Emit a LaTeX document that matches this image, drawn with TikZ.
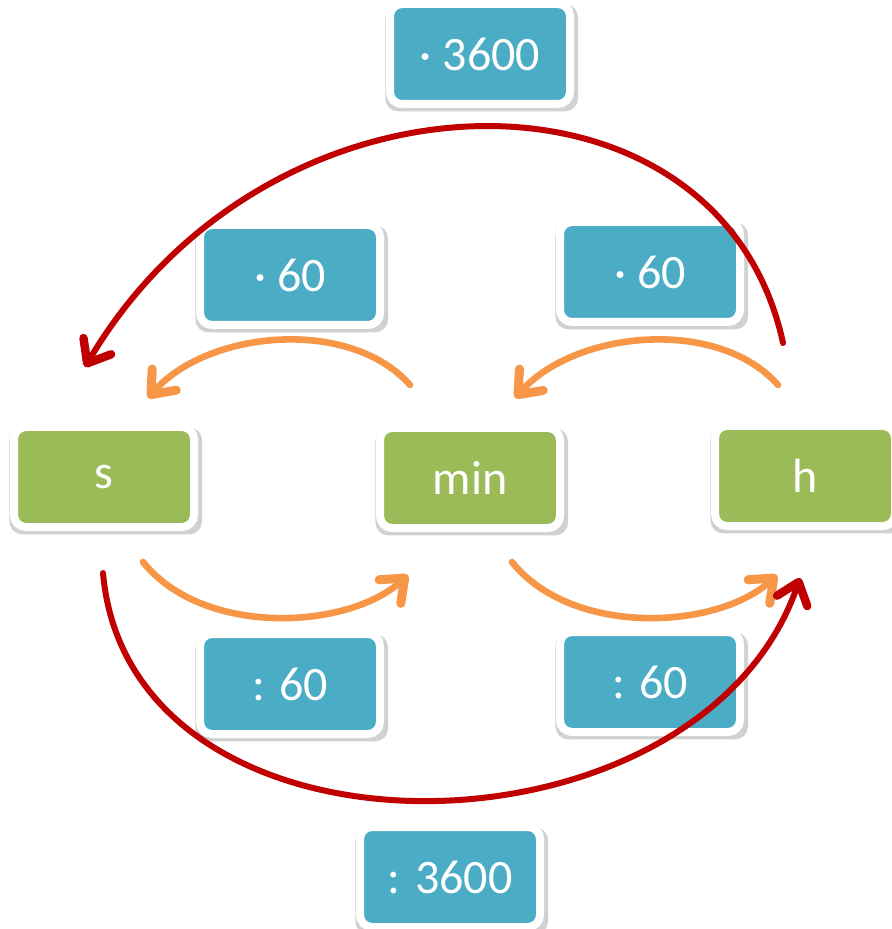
\documentclass[tikz,border=0pt]{standalone}
\usepackage{fontspec}
\setmainfont{Carlito}
\usetikzlibrary{arrows.meta,shadows}
\definecolor{unitgreen}{HTML}{9BBB59}
\definecolor{factorblue}{HTML}{4BACC6}
\definecolor{stepcolor}{HTML}{F79646}
\definecolor{bigstep}{HTML}{C00000}
\tikzstyle{box}=[rounded corners=6pt,draw=white,line width=4pt,minimum width=90pt,minimum height=50pt,text=white,font=\fontsize{24}{30}\selectfont,drop shadow={shadow scale=1.07,shadow xshift=0.8pt,shadow yshift=-1.8pt,opacity=0.18,fill=black}]
\tikzstyle{unit}=[box,fill=unitgreen]
\tikzstyle{factor}=[box,fill=factorblue]
\tikzstyle{small}=[draw=stepcolor,line width=3.3pt,line cap=round,-{Straight Barb[length=10pt,width=16pt,line width=4.5pt,round]}]
\tikzstyle{large}=[draw=bigstep,line width=3pt,line cap=round,-{Straight Barb[length=10pt,width=16pt,line width=4.2pt,round]}]

\begin{document}
\begin{tikzpicture}[x=0.5pt,y=-0.5pt]
\useasboundingbox (0,0) rectangle (891,929);

\node[unit] (s) at (104,477) {s};
\node[unit] (min) at (470,478) {min};
\node[unit] (h) at (805,476) {h};

\node[factor] (mulh) at (480,54) {· 3600};
\node[factor] (mulsl) at (290,275) {· 60};
\node[factor] (mulmr) at (650,272) {· 60};
\node[factor] (divsl) at (290,684) {: 60};
\node[factor] (divmr) at (650,682) {: 60};
\node[factor] (divh) at (450,877) {: 3600};

% free ends of the arrows
\coordinate (minTop) at (410,385);
\coordinate (sTop) at (148,398);
\coordinate (hTop) at (778,385);
\coordinate (minTopR) at (515,398);
\coordinate (sBot) at (143,562);
\coordinate (minBot) at (408,575);
\coordinate (minBotR) at (512,562);
\coordinate (hBot) at (777,575);
\coordinate (hFar) at (783,343);
\coordinate (sFar) at (85,367);
\coordinate (sFarB) at (103,573);
\coordinate (hFarB) at (800,578);

\draw[small] (minTop) .. controls (350,317) and (208,330) .. (sTop);
\draw[small] (hTop) .. controls (718,317) and (576,330) .. (minTopR);
\draw[small] (sBot) .. controls (203,637) and (348,630) .. (minBot);
\draw[small] (minBotR) .. controls (572,637) and (717,630) .. (hBot);

\draw[large] (hFar) .. controls (720,50) and (271,52) .. (sFar);
\draw[large] (sFarB) .. controls (130,880) and (700,870) .. (hFarB);
\end{tikzpicture}
\end{document}
